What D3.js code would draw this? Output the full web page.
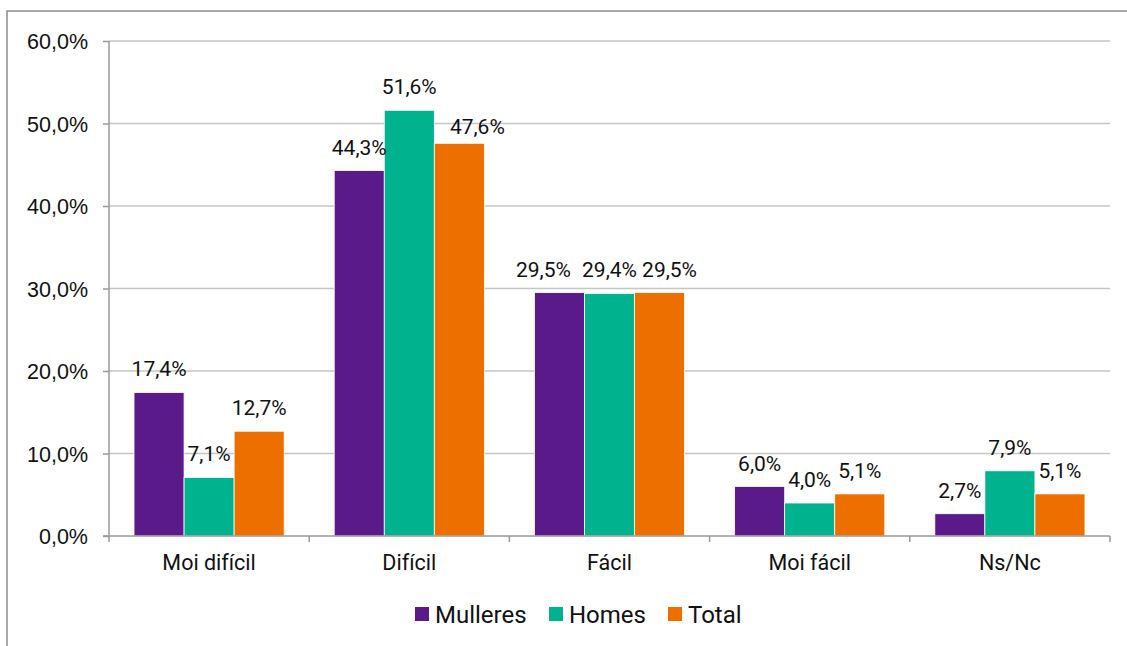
<!DOCTYPE html>
<html>
<head>
<meta charset="utf-8">
<script src="https://cdn.jsdelivr.net/npm/d3@7"></script>
<style>
  html, body { margin: 0; padding: 0; background: #fff; }
  svg { display: block; font-family: Roboto, "Noto Sans", sans-serif; }
</style>
</head>
<body>
<svg id="chart" width="1127" height="646"></svg>
<script>
// Response categories and percentages by group
const categories = ["Moi difícil", "Difícil", "Fácil", "Moi fácil", "Ns/Nc"];
const seriesNames = ["Mulleres", "Homes", "Total"];
const mulleres = [17.4, 44.3, 29.5, 6.0, 2.7];
const homes    = [7.1, 51.6, 29.4, 4.0, 7.9];
const total    = [12.7, 47.6, 29.5, 5.1, 5.1];
const yTicks   = [0, 10, 20, 30, 40, 50, 60];
const colors   = ["#5a1a8a", "#00b38f", "#ec6f00"];

const seriesValues = [mulleres, homes, total];
const fmt = v => v.toFixed(1).replace(".", ",") + "%";

// labels shifted so neighbouring values don't run into each other
const labelNudge = {
  "Difícil|Total": [18, 7],
  "Fácil|Mulleres": [-16, 0],
  "Fácil|Total": [10, 0]
};

const svg = d3.select("#chart");

// chart frame
svg.append("rect")
  .attr("x", 7).attr("y", 11)
  .attr("width", 1140).attr("height", 660)
  .attr("fill", "none").attr("stroke", "#8c8c8c").attr("stroke-width", 1.5);

const plot = { left: 109, right: 1110, top: 41, bottom: 536 };

const x0 = d3.scaleBand()
  .domain(categories)
  .range([plot.left, plot.right])
  .paddingInner(0.25)
  .paddingOuter(0.125);

const x1 = d3.scaleBand()
  .domain(seriesNames)
  .range([0, x0.bandwidth()]);

const y = d3.scaleLinear().domain([0, 60]).range([plot.bottom, plot.top]);

// horizontal gridlines
svg.append("g").selectAll("line")
  .data(yTicks.filter(t => t > 0))
  .join("line")
  .attr("x1", plot.left).attr("x2", plot.right)
  .attr("y1", d => y(d)).attr("y2", d => y(d))
  .attr("stroke", "#c6c6c6").attr("stroke-width", 1.5);

// y axis
const yAxis = svg.append("g")
  .attr("transform", `translate(${plot.left},0)`)
  .call(d3.axisLeft(y).tickValues(yTicks).tickSize(6).tickPadding(15)
    .tickFormat(d => d.toFixed(1).replace(".", ",") + "%"));
yAxis.select(".domain").attr("stroke", "#9a9a9a").attr("stroke-width", 1.5)
  .attr("d", `M0,${plot.top}V${plot.bottom}`);
yAxis.selectAll(".tick line").attr("stroke", "#9a9a9a").attr("stroke-width", 1.5);
yAxis.selectAll(".tick text")
  .attr("fill", "#111").style("font-size", "21.5px")
  .attr("dy", "0.36em");

// bars
const groups = svg.append("g").selectAll("g")
  .data(categories)
  .join("g")
  .attr("transform", d => `translate(${x0(d)},0)`);

const cells = (c, i) => seriesNames.map((s, k) => ({ c, s, k, v: seriesValues[k][i] }));

groups.selectAll("rect")
  .data(cells)
  .join("rect")
  .attr("x", d => x1(d.s))
  .attr("y", d => y(d.v))
  .attr("width", x1.bandwidth())
  .attr("height", d => y(0) - y(d.v))
  .attr("fill", d => colors[d.k])
  .attr("stroke", "#fff").attr("stroke-width", 0.8);

// value labels
const nudge = d => labelNudge[d.c + "|" + d.s] || [0, 0];
groups.selectAll("text")
  .data(cells)
  .join("text")
  .attr("x", d => x1(d.s) + x1.bandwidth() / 2 + nudge(d)[0])
  .attr("y", d => y(d.v) - 16 + nudge(d)[1])
  .attr("text-anchor", "middle")
  .attr("fill", "#111")
  .style("font-size", "21px")
  .text(d => fmt(d.v));

// x axis
const xAxisG = svg.append("g");
xAxisG.append("line")
  .attr("x1", plot.left - 6).attr("x2", plot.right)
  .attr("y1", plot.bottom).attr("y2", plot.bottom)
  .attr("stroke", "#9a9a9a").attr("stroke-width", 1.5);
const bounds = categories.map(c => x0(c) - x0.step() * x0.paddingInner() / 2)
  .concat([plot.right]);
xAxisG.selectAll("line.tk")
  .data(bounds)
  .join("line").attr("class", "tk")
  .attr("x1", d => d).attr("x2", d => d)
  .attr("y1", plot.bottom).attr("y2", plot.bottom + 6)
  .attr("stroke", "#9a9a9a").attr("stroke-width", 1.5);
xAxisG.selectAll("text")
  .data(categories)
  .join("text")
  .attr("x", d => x0(d) + x0.bandwidth() / 2)
  .attr("y", 570)
  .attr("text-anchor", "middle")
  .attr("fill", "#111")
  .style("font-size", "21.5px")
  .text(d => d);

// legend
const legendX = [415, 549, 668];
const legend = svg.append("g").selectAll("g")
  .data(seriesNames)
  .join("g")
  .attr("transform", (d, i) => `translate(${legendX[i]},607)`);
legend.append("rect")
  .attr("width", 14).attr("height", 14)
  .attr("fill", (d, i) => colors[i]);
legend.append("text")
  .attr("x", 20).attr("y", 15.5)
  .attr("fill", "#111")
  .style("font-size", "24px")
  .text(d => d);
</script>
</body>
</html>
